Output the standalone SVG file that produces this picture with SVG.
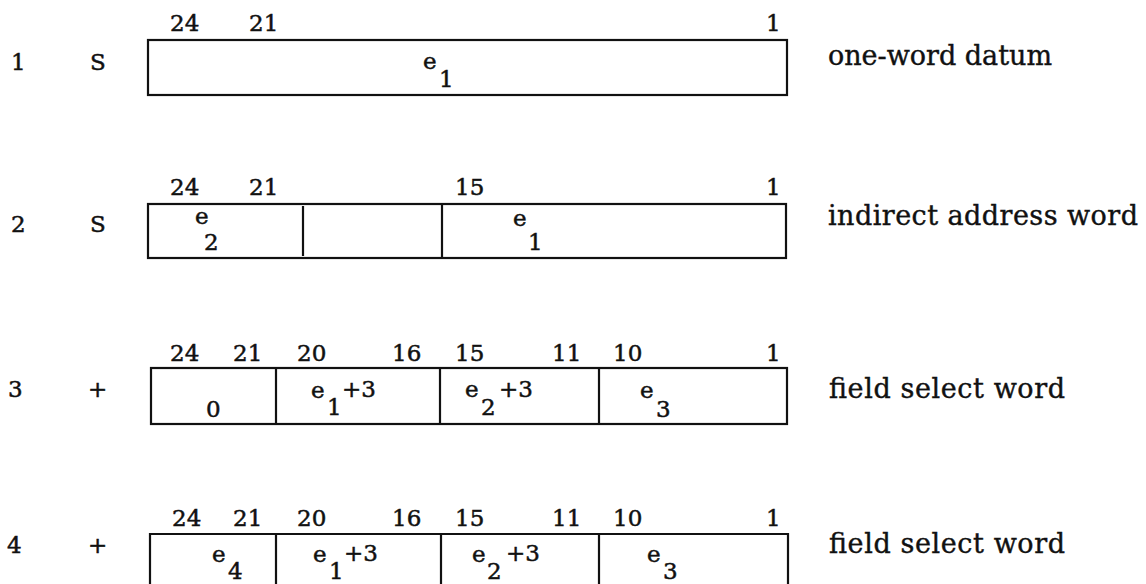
<svg xmlns="http://www.w3.org/2000/svg" width="1146" height="584" viewBox="0 0 1146 584">
<style>
text{font-family:"DejaVu Serif","Liberation Serif",serif;font-size:23px;fill:#111;stroke:#111;stroke-width:0.5}
.lbl{font-size:27px;stroke-width:0.4}
.box{fill:none;stroke:#111;stroke-width:2.2}
</style>
<rect width="1146" height="584" fill="#fff"/>
<g id="row1">
<text x="11" y="70">1</text>
<text x="90" y="70">S</text>
<text x="170" y="31">24</text>
<text x="249" y="31">21</text>
<text x="766" y="31">1</text>
<rect class="box" x="148" y="40" width="639" height="55"/>
<text x="423" y="69">e</text><text x="439" y="87">1</text>
<text class="lbl" x="828" y="65" textLength="224" lengthAdjust="spacing">one-word datum</text>
</g>
<g id="row2">
<text x="11" y="232">2</text>
<text x="90" y="232">S</text>
<text x="170" y="195">24</text>
<text x="249" y="195">21</text>
<text x="455" y="195">15</text>
<text x="766" y="195">1</text>
<rect class="box" x="148" y="204" width="638" height="54"/>
<line class="box" x1="303" y1="206" x2="303" y2="256"/>
<line class="box" x1="442" y1="204" x2="442" y2="258"/>
<text x="195" y="224">e</text><text x="204" y="250">2</text>
<text x="513" y="226">e</text><text x="528" y="250">1</text>
<text class="lbl" x="828" y="225" textLength="310" lengthAdjust="spacing">indirect address word</text>
</g>
<g id="row3">
<text x="8" y="397">3</text>
<text x="88" y="397">+</text>
<text x="170" y="361">24</text>
<text x="233" y="361">21</text>
<text x="297" y="361">20</text>
<text x="392" y="361">16</text>
<text x="455" y="361">15</text>
<text x="552" y="361">11</text>
<text x="613" y="361">10</text>
<text x="766" y="361">1</text>
<rect class="box" x="151" y="368" width="636" height="56"/>
<line class="box" x1="276" y1="368" x2="276" y2="424"/>
<line class="box" x1="440" y1="368" x2="440" y2="424"/>
<line class="box" x1="599" y1="368" x2="599" y2="424"/>
<text x="206" y="417">0</text>
<text x="311" y="398">e</text><text x="327" y="415">1</text><text x="342" y="397">+3</text>
<text x="465" y="397">e</text><text x="481" y="415">2</text><text x="499" y="397">+3</text>
<text x="640" y="398">e</text><text x="656" y="417">3</text>
<text class="lbl" x="829" y="398" textLength="236" lengthAdjust="spacing">field select word</text>
</g>
<g id="row4">
<text x="7" y="553">4</text>
<text x="88" y="553">+</text>
<text x="172" y="526">24</text>
<text x="233" y="526">21</text>
<text x="297" y="526">20</text>
<text x="392" y="526">16</text>
<text x="455" y="526">15</text>
<text x="552" y="526">11</text>
<text x="613" y="526">10</text>
<text x="766" y="526">1</text>
<path class="box" d="M150 584V534H788V584M276 534V584M441 534V584M599 534V584"/>
<text x="212" y="562">e</text><text x="228" y="579">4</text>
<text x="313" y="562">e</text><text x="329" y="579">1</text><text x="344" y="561">+3</text>
<text x="472" y="562">e</text><text x="487" y="579">2</text><text x="506" y="561">+3</text>
<text x="647" y="562">e</text><text x="663" y="579">3</text>
<text class="lbl" x="829" y="553" textLength="236" lengthAdjust="spacing">field select word</text>
</g>
<g id="connectors"/>
</svg>
